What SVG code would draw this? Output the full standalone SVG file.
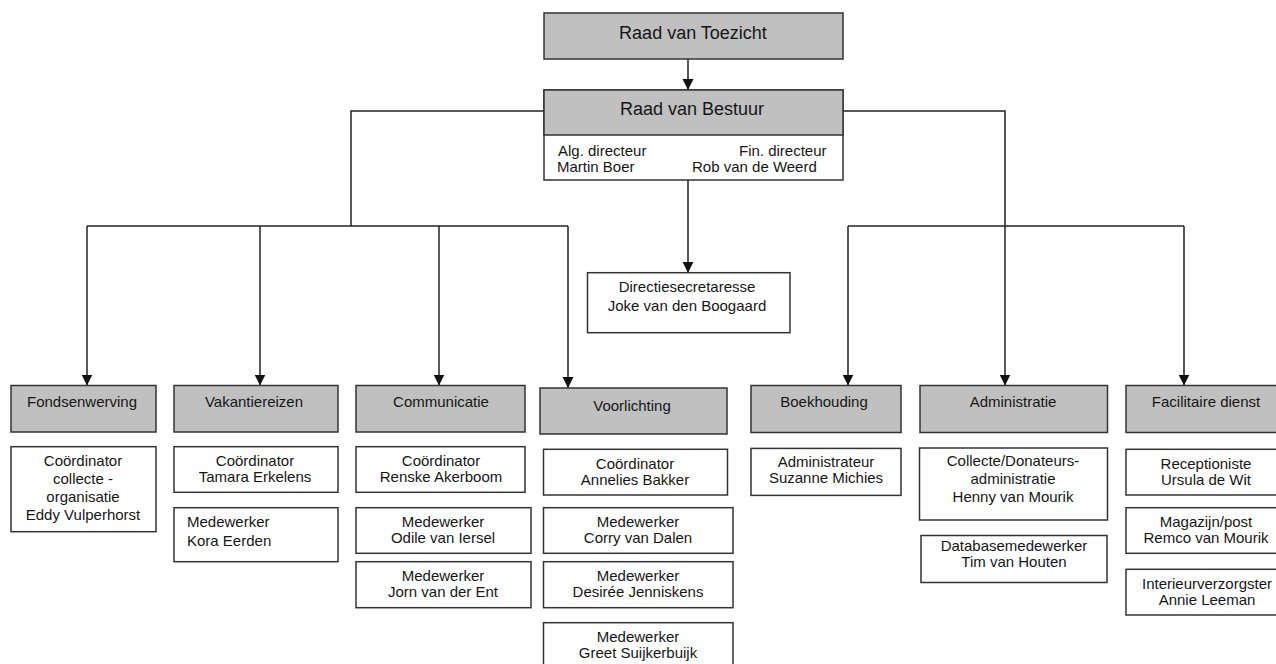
<svg xmlns="http://www.w3.org/2000/svg" width="1276" height="664" viewBox="0 0 1276 664">
<defs>
<style>
.dept{fill:#c0c0c0;stroke:#333;stroke-width:1.5}
.box{fill:#fff;stroke:#333;stroke-width:1.5}
.ln{fill:none;stroke:#222;stroke-width:1.5}
.ar{fill:none;stroke:#222;stroke-width:1.5;marker-end:url(#arr)}
text{font-family:"Liberation Sans",Arial,sans-serif;font-size:15px;fill:#161616;text-anchor:middle}
.title{font-size:18px}
.st{text-anchor:start}
</style>
<marker id="arr" markerUnits="userSpaceOnUse" markerWidth="12" markerHeight="12" refX="11" refY="5.5" orient="auto">
<path d="M0,0 L11,5.5 L0,11 z" fill="#111"/>
</marker>
</defs>
<rect width="1276" height="664" fill="#fff"/>

<g id="connectors">
<path class="ar" d="M688,59 V90"/>
<path class="ar" d="M688,180 V272.7"/>
<path class="ln" d="M544,111 H351 V226"/>
<path class="ln" d="M87,226 H568"/>
<path class="ar" d="M87,226 V385.5"/>
<path class="ar" d="M260,226 V385.5"/>
<path class="ar" d="M439,226 V385.5"/>
<path class="ar" d="M568,226 V388"/>
<path class="ln" d="M843,111 H1005 V226"/>
<path class="ln" d="M848,226 H1184"/>
<path class="ar" d="M848,226 V385.5"/>
<path class="ar" d="M1005,226 V385.5"/>
<path class="ar" d="M1184,226 V385.5"/>
</g>

<g id="raad-van-toezicht">
<rect class="dept" x="544" y="13" width="299" height="46"/>
<text class="title" x="693" y="39">Raad van Toezicht</text>
</g>

<g id="raad-van-bestuur">
<rect class="box" x="544" y="90" width="299" height="90"/>
<rect class="dept" x="544" y="90" width="299" height="45"/>
<text class="title" x="692" y="115">Raad van Bestuur</text>
<text class="st" x="558" y="156">Alg. directeur</text>
<text class="st" x="557" y="172">Martin Boer</text>
<text class="st" x="739" y="156">Fin. directeur</text>
<text class="st" x="692" y="172">Rob van de Weerd</text>
</g>

<g id="directiesecretaresse">
<rect class="box" x="587.5" y="272.7" width="202.5" height="60"/>
<text x="687" y="292">Directiesecretaresse</text>
<text x="687" y="311">Joke van den Boogaard</text>
</g>

<g id="fondsenwerving">
<rect class="dept" x="11" y="385.5" width="145" height="46.5"/>
<text x="82" y="407">Fondsenwerving</text>
</g>
<g id="fondsenwerving-coordinator">
<rect class="box" x="11" y="446.7" width="145" height="85"/>
<text x="83" y="466">Coördinator</text>
<text x="83" y="484">collecte -</text>
<text x="83" y="502">organisatie</text>
<text x="83" y="520">Eddy Vulperhorst</text>
</g>

<g id="vakantiereizen">
<rect class="dept" x="174" y="385.5" width="164" height="46.5"/>
<text x="254" y="407">Vakantiereizen</text>
</g>
<g id="vakantiereizen-coordinator">
<rect class="box" x="174" y="446.7" width="164" height="45.6"/>
<text x="255" y="466">Coördinator</text>
<text x="255" y="482">Tamara Erkelens</text>
</g>
<g id="vakantiereizen-medewerker">
<rect class="box" x="174" y="507.7" width="164" height="54"/>
<text class="st" x="187" y="527">Medewerker</text>
<text class="st" x="187" y="546">Kora Eerden</text>
</g>

<g id="communicatie">
<rect class="dept" x="356" y="385.5" width="169" height="46.5"/>
<text x="441" y="407">Communicatie</text>
</g>
<g id="communicatie-coordinator">
<rect class="box" x="356" y="446.7" width="169" height="45.6"/>
<text x="441" y="466">Coördinator</text>
<text x="441" y="482">Renske Akerboom</text>
</g>
<g id="communicatie-medewerker-1">
<rect class="box" x="356" y="507.7" width="175" height="45.6"/>
<text x="443" y="527">Medewerker</text>
<text x="443" y="543">Odile van Iersel</text>
</g>
<g id="communicatie-medewerker-2">
<rect class="box" x="356" y="561.7" width="175" height="46"/>
<text x="443" y="581">Medewerker</text>
<text x="443" y="597">Jorn van der Ent</text>
</g>

<g id="voorlichting">
<rect class="dept" x="540" y="388" width="187" height="46"/>
<text x="632" y="411">Voorlichting</text>
</g>
<g id="voorlichting-coordinator">
<rect class="box" x="543.5" y="449.3" width="184" height="45.7"/>
<text x="635" y="469">Coördinator</text>
<text x="635" y="485">Annelies Bakker</text>
</g>
<g id="voorlichting-medewerker-1">
<rect class="box" x="543.5" y="507.7" width="189.5" height="45.6"/>
<text x="638" y="527">Medewerker</text>
<text x="638" y="543">Corry van Dalen</text>
</g>
<g id="voorlichting-medewerker-2">
<rect class="box" x="543.5" y="561.7" width="189.5" height="46"/>
<text x="638" y="581">Medewerker</text>
<text x="638" y="597">Desirée Jenniskens</text>
</g>
<g id="voorlichting-medewerker-3">
<rect class="box" x="543.5" y="622.7" width="189.5" height="46"/>
<text x="638" y="642">Medewerker</text>
<text x="638" y="658">Greet Suijkerbuijk</text>
</g>

<g id="boekhouding">
<rect class="dept" x="751" y="385.5" width="150" height="47"/>
<text x="824" y="407">Boekhouding</text>
</g>
<g id="boekhouding-administrateur">
<rect class="box" x="751" y="448.4" width="150" height="47"/>
<text x="826" y="467">Administrateur</text>
<text x="826" y="483">Suzanne Michies</text>
</g>

<g id="administratie">
<rect class="dept" x="920" y="385.5" width="187.5" height="47"/>
<text x="1013" y="407">Administratie</text>
</g>
<g id="administratie-collecte">
<rect class="box" x="919.5" y="448" width="188" height="72"/>
<text x="1013" y="466">Collecte/Donateurs-</text>
<text x="1013" y="484">administratie</text>
<text x="1013" y="502">Henny van Mourik</text>
</g>
<g id="administratie-database">
<rect class="box" x="921" y="535.5" width="186" height="47"/>
<text x="1014" y="551">Databasemedewerker</text>
<text x="1014" y="567">Tim van Houten</text>
</g>

<g id="facilitaire-dienst">
<rect class="dept" x="1126" y="385.5" width="160" height="47"/>
<text x="1206" y="407">Facilitaire dienst</text>
</g>
<g id="facilitaire-receptioniste">
<rect class="box" x="1126" y="449.3" width="160" height="45.7"/>
<text x="1206" y="469">Receptioniste</text>
<text x="1206" y="485">Ursula de Wit</text>
</g>
<g id="facilitaire-magazijn">
<rect class="box" x="1126" y="507.7" width="160" height="45.6"/>
<text x="1206" y="527">Magazijn/post</text>
<text x="1206" y="543">Remco van Mourik</text>
</g>
<g id="facilitaire-interieur">
<rect class="box" x="1126" y="569.3" width="160" height="45.7"/>
<text x="1207" y="589">Interieurverzorgster</text>
<text x="1207" y="605">Annie Leeman</text>
</g>
</svg>
